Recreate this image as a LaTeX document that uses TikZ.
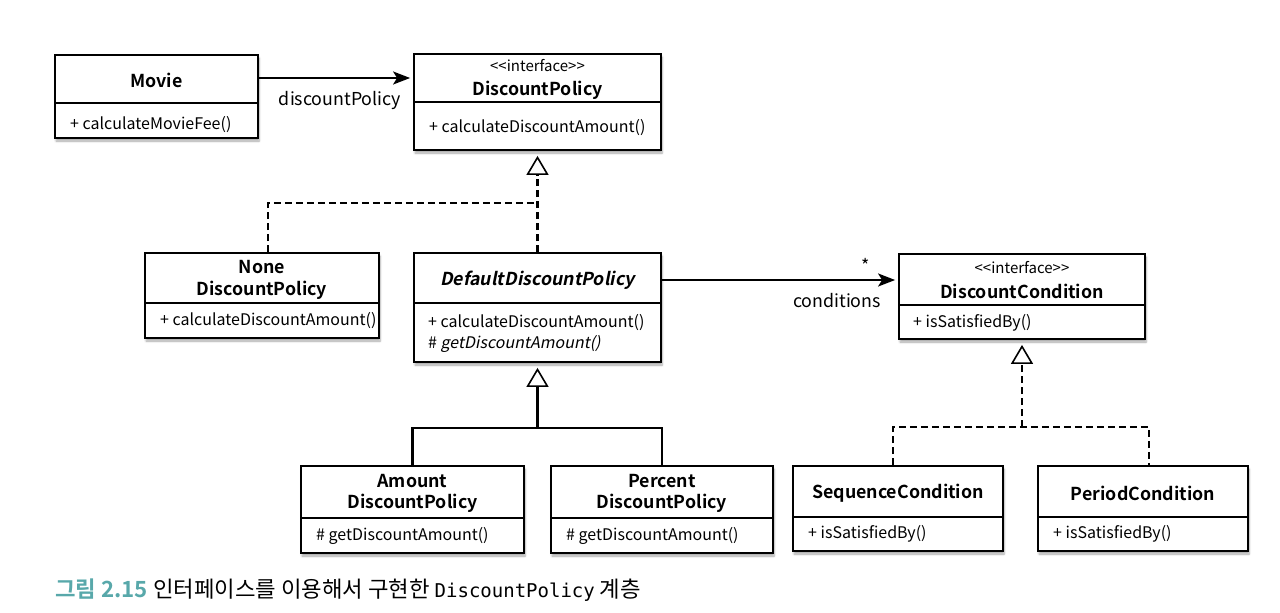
\documentclass[tikz,border=0pt]{standalone}
\usepackage{fontspec}
\setmainfont{Noto Sans CJK KR}[BoldFont={Noto Sans CJK KR Bold},ItalicFont={Noto Sans CJK KR},ItalicFeatures={FakeSlant=0.2},BoldItalicFont={Noto Sans CJK KR Bold},BoldItalicFeatures={FakeSlant=0.2}]
\newfontfamily\capmono{DejaVu Sans Mono}
\usetikzlibrary{arrows.meta,shadows.blur}
\definecolor{capteal}{RGB}{88,168,170}
\tikzset{
  cls/.style={draw=black,line width=1.8pt,fill=white,inner sep=0pt,
    blur shadow={shadow xshift=1pt,shadow yshift=-3pt,shadow blur steps=6,shadow opacity=35}},
  divider/.style={line width=1.5pt},
  ttl/.style={font=\fontsize{17.8}{21.5}\selectfont\bfseries,align=center,inner sep=0pt},
  ittl/.style={font=\fontsize{17.8}{21.5}\selectfont\bfseries\itshape,align=center,inner sep=0pt},
  stereo/.style={font=\fontsize{15}{16}\selectfont,inner sep=0pt},
  meth/.style={font=\fontsize{16}{19}\selectfont,anchor=west,inner sep=0pt},
  lbl/.style={font=\fontsize{17.8}{20}\selectfont,inner sep=0pt},
  assoc/.style={line width=2.1pt,-{Stealth[length=17pt,width=13pt,inset=4pt]},shorten >=3pt},
  gen/.style={line width=2.1pt,-{Triangle[open,length=19pt,width=22pt,line width=1.6pt]},shorten >=5pt},
  real/.style={gen,dash pattern=on 7pt off 4pt},
  dsh/.style={line width=2.1pt,dash pattern=on 7pt off 4pt},
  sol/.style={line width=2.1pt}
}
\begin{document}
\begin{tikzpicture}[x=1pt,y=-1pt]
\useasboundingbox (0,0) rectangle (1280,613);
% boxes
\node[cls,minimum width=203pt,minimum height=83pt] (movie) at (156.5,96.5) {};
\node[cls,minimum width=247pt,minimum height=96pt] (policy) at (537.5,102) {};
\node[cls,minimum width=234pt,minimum height=85pt] (none) at (262,295.5) {};
\node[cls,minimum width=247pt,minimum height=109pt] (default) at (537.5,307.5) {};
\node[cls,minimum width=246pt,minimum height=85pt] (cond) at (1022,296.5) {};
\node[cls,minimum width=223pt,minimum height=87pt] (amount) at (412.5,509.5) {};
\node[cls,minimum width=222pt,minimum height=87pt] (percent) at (662,509.5) {};
\node[cls,minimum width=210pt,minimum height=85pt] (seq) at (898,508.5) {};
\node[cls,minimum width=210pt,minimum height=85pt] (period) at (1143,508.5) {};
% dividers
\draw[divider] (movie.west |- 0,103) -- (movie.east |- 0,103);
\draw[divider] (policy.west |- 0,102) -- (policy.east |- 0,102);
\draw[divider] (none.west |- 0,303) -- (none.east |- 0,303);
\draw[divider] (default.west |- 0,303) -- (default.east |- 0,303);
\draw[divider] (cond.west |- 0,305) -- (cond.east |- 0,305);
\draw[divider] (amount.west |- 0,518) -- (amount.east |- 0,518);
\draw[divider] (percent.west |- 0,518) -- (percent.east |- 0,518);
\draw[divider] (seq.west |- 0,517) -- (seq.east |- 0,517);
\draw[divider] (period.west |- 0,517) -- (period.east |- 0,517);
% texts
\node[ttl] (movieT) at (156.5,80) {Movie};
\node[meth] (movieM) at (70,125) {+ calculateMovieFee()};
\node[stereo] (policyS) at (537.5,66) {<{}<interface>{}>};
\node[ttl] (policyT) at (537.5,90) {DiscountPolicy};
\node[meth] (policyM) at (429,128) {+ calculateDiscountAmount()};
\node[ttl] (noneT) at (262,280) {None\\DiscountPolicy};
\node[meth] (noneM) at (160,321) {+ calculateDiscountAmount()};
\node[ittl] (defaultT) at (537.5,280) {DefaultDiscountPolicy};
\node[meth] (defaultM1) at (428,323) {+ calculateDiscountAmount()};
\node[meth] (defaultM2) at (428,344) {\# \textit{getDiscountAmount()}};
\node[stereo] (condS) at (1022,268) {<{}<interface>{}>};
\node[ttl] (condT) at (1022,291) {DiscountCondition};
\node[meth] (condM) at (913,323) {+ isSatisfiedBy()};
\node[ttl] (amountT) at (412.5,493.5) {Amount\\DiscountPolicy};
\node[meth] (amountM) at (316,536) {\# getDiscountAmount()};
\node[ttl] (percentT) at (662,493.5) {Percent\\DiscountPolicy};
\node[meth] (percentM) at (566,536) {\# getDiscountAmount()};
\node[ttl] (seqT) at (898,493) {SequenceCondition};
\node[meth] (seqM) at (808,534) {+ isSatisfiedBy()};
\node[ttl] (periodT) at (1143,493) {PeriodCondition};
\node[meth] (periodM) at (1053,534) {+ isSatisfiedBy()};
% associations
\draw[assoc] ([yshift=18.5pt]movie.east) -- ([yshift=24pt]policy.west);
\node[lbl] (dpL) at (340,100) {discountPolicy};
\draw[assoc] ([yshift=27.5pt]default.east) -- ([yshift=16.5pt]cond.west);
\node[lbl] (starL) at (866,265) {*};
\node[lbl] (condL) at (837,301) {conditions};
% realization of DiscountPolicy
\coordinate (j1) at (537.5,203);
\draw[real] (default.north) -- (policy.south);
\draw[dsh] ([xshift=6pt]none.north) |- (j1);
% generalization of DefaultDiscountPolicy
\coordinate (j2) at (537.5,428);
\draw[gen] (j2) -- (default.south);
\draw[sol] (amount.north) |- (j2) -| (percent.north);
% realization of DiscountCondition
\coordinate (j3) at (1022,427);
\draw[real] (j3) -- (cond.south);
\draw[dsh] ([xshift=-5pt]seq.north) |- (j3) -| ([xshift=6pt]period.north);
% caption
\node[anchor=base west,inner sep=0pt,font=\fontsize{22.3}{24}\selectfont] (cap) at (55,597)
  {\textcolor{capteal}{\bfseries 그림 2.15} 인터페이스를 이용해서 구현한 {\fontsize{19}{22}\selectfont\capmono DiscountPolicy} 계층};
\end{tikzpicture}
\end{document}
